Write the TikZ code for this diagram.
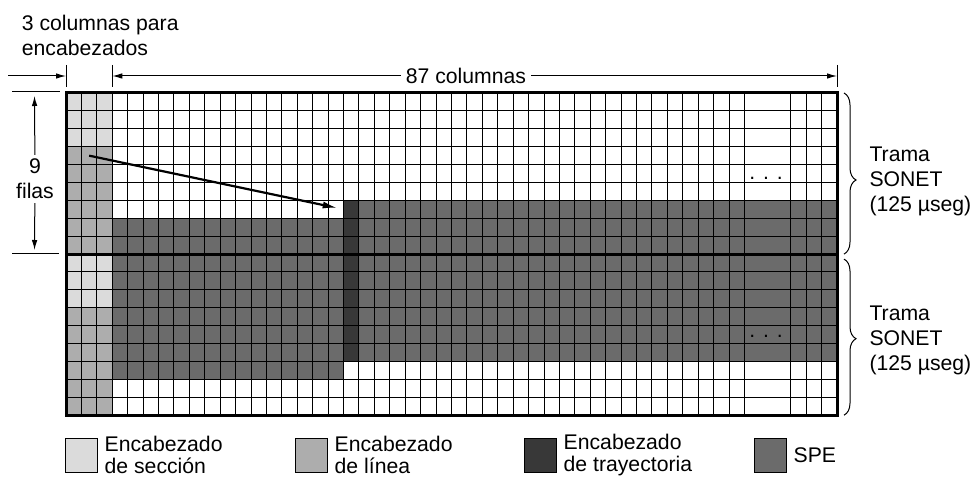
\documentclass[tikz,border=0pt]{standalone}
\usepackage{fontspec}
\setmainfont{Liberation Sans}
\usetikzlibrary{arrows.meta, positioning, decorations.pathreplacing}

\colorlet{secoh}{black!14}
\colorlet{lineoh}{black!32}
\colorlet{pathoh}{black!78}
\colorlet{speclr}{black!58}

\begin{document}
\begin{tikzpicture}[x=1pt, y=-1pt,
  every node/.style={font=\fontsize{21.2}{25}\selectfont},
  cell/.style={draw=black, line width=1pt},
  frame/.style={draw=black, line width=3pt},
  dimline/.style={line width=1pt},
  dimarrow/.style={-{Latex[length=10pt, width=5.5pt]}, line width=1pt},
  ptrarrow/.style={-{Latex[length=15pt, width=7pt]}, line width=2.2pt},
  sbrace/.style={decorate, decoration={brace, amplitude=12pt, aspect=#1}, line width=1pt},
  legbox/.style={draw=black, line width=1pt, minimum width=32pt, minimum height=34pt, inner sep=0pt},
  legtext/.style={align=left, font=\fontsize{21.2}{21.5}\selectfont, inner sep=2pt}
]
\useasboundingbox (0,0) rectangle (974,478);

% Rejilla de la trama (2 tramas de 9 filas)
\begin{scope}[shift={(66,93)}, x=15.42pt, y=-17.9pt]
  % rellenos
  \fill[secoh] (0,0) rectangle (3,3) (0,9) rectangle (3,12);
  \fill[lineoh] (0,3) rectangle (3,9) (0,12) rectangle (3,18);
  \fill[speclr] (3,7) rectangle (18,16) (19,6) rectangle (50,15);
  \fill[pathoh] (18,6) rectangle (19,15);
  % lineas
  \foreach \j in {1,...,17} \draw[cell] (0,\j) -- (50,\j);
  \foreach \i in {1,...,44} \draw[cell] (\i,0) -- (\i,18);
  \foreach \i in {47,48,49} \draw[cell] (\i,0) -- (\i,18);
  \draw[frame] (0,9) -- (50,9);
  \draw[frame] (0,0) rectangle (50,18);
  % puntos suspensivos
  \node (dotsA) [anchor=base, inner sep=0pt] at (45.4,4.83) {. . .};
  \node (dotsB) [anchor=base, inner sep=0pt] at (45.4,13.66) {. . .};
  % puntos de referencia
  \coordinate (ptrfrom) at (1.5,3.5);
  \coordinate (ptrto) at (18,6.5);
  \coordinate (gNW) at (0,0);
  \coordinate (gNE) at (50,0);
  \coordinate (gE) at (50,9);
  \coordinate (gSE) at (50,18);
\end{scope}

% Puntero al encabezado de trayectoria
\draw[ptrarrow, shorten >=6pt] (ptrfrom) -- (ptrto);

% Cota superior
\coordinate (tO) at (8,76);
\coordinate (tA) at (66,76);
\coordinate (tB) at (112.3,76);
\coordinate (tC) at (837,76);
\draw[dimline] ([yshift=11pt]tA) -- ([yshift=-11pt]tA);
\draw[dimline] ([yshift=11pt]tB) -- ([yshift=-11pt]tB);
\draw[dimline] ([yshift=11pt]tC) -- ([yshift=-11pt]tC);
\node (hdrlbl) [anchor=north west, align=left, inner sep=0pt] at (21.7,15) {3 columnas para\\encabezados};
\node (ncols) [inner sep=5pt] at (466,76) {87 columnas};
\draw[dimarrow] (tO) -- (tA);
\draw[dimarrow] (ncols) -- (tB);
\draw[dimarrow] (ncols) -- (tC);

% Cota izquierda
\coordinate (lT) at (34.5,92);
\coordinate (lB) at (34.5,254);
\draw[dimline] (12,92) -- (60,92);
\draw[dimline] (12,254) -- (59,254);
\node (nrows) [align=center, inner sep=4pt] at (35,179) {9\\filas};
\draw[dimarrow, shorten >=4pt] (nrows) -- (lT);
\draw[dimarrow, shorten >=4pt] (nrows) -- (lB);

% Llaves de trama
\draw[sbrace=0.54] ([xshift=7pt]gNE) -- ([xshift=7pt]gE);
\draw[sbrace=0.51] ([xshift=7pt, yshift=-5pt]gE) -- ([xshift=7pt]gSE);
\node (frameA) [anchor=west, align=left] at (866,181) {Trama\\SONET\\(125 µseg)};
\node (frameB) [anchor=west, align=left] at (866,340) {Trama\\SONET\\(125 µseg)};

% Leyenda
\node (lgsec) [legbox, fill=secoh] at (81,455) {};
\node (lgsectxt) [legtext, right=5pt of lgsec] {Encabezado\\de sección};
\node (lglin) [legbox, fill=lineoh] at (311,455) {};
\node (lglintxt) [legtext, right=5pt of lglin] {Encabezado\\de línea};
\node (lgpath) [legbox, fill=pathoh] at (540,455) {};
\node (lgpathtxt) [legtext, right=5pt of lgpath] {Encabezado\\de trayectoria};
\node (lgspe) [legbox, fill=speclr] at (770,455) {};
\node (lgspetxt) [legtext, right=5pt of lgspe] {SPE};

\end{tikzpicture}
\end{document}
